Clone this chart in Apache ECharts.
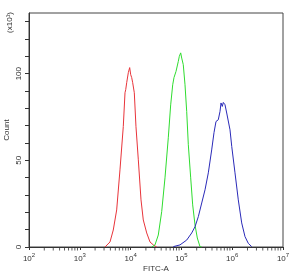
<!DOCTYPE html>
<html><head><meta charset="utf-8">
<script src="https://cdn.jsdelivr.net/npm/echarts@6/dist/echarts.min.js"></script>
<style>html,body{margin:0;padding:0;background:#fff}#c{width:299px;height:275px}</style>
</head><body><div id="c"></div>
<script>
// FITC-A values and counts (counts in units of x10^1)
var redX = [3130,3930,4560,5320,6180,7180,7760,8020,8380,9020,9590,10050,10520,10990,11830,12760,14190,16030,17780,20750,24100,27990,32660];
var redY = [0,2.9,9.8,21.4,44.5,69.5,89,90.8,94.8,100.6,103.5,99.4,97.7,94.8,89,69.4,50.3,27.2,15.6,8.1,2.9,1.2,0];
var greenX = [26000,30200,35080,40930,47530,55210,61520,67450,71450,78340,86900,90990,96830,101400,108900,117800,127100,136800,152400,166700,185400,205600,232300,251200];
var greenY = [0,1.2,6.9,20.4,39.9,63,82,93.6,97.7,101.3,107.1,110,112,109,105.2,93.6,78.2,59,39.9,24.3,12.7,5.2,0.2,0];
var blueX = [69340,93760,127100,159600,185400,215300,251200,291700,338800,394500,438500,479700,532100,575400,602600,638300,668300,721100,779800,905700,979500,1135000,1318000,1538000,1786000,2075000,2421000];
var blueY = [0.2,1.2,4,8.1,11.7,17.5,25.4,33,42.8,56,66,72.4,73.4,78.2,83.1,81.1,83.4,82.1,77.3,67.6,58,42.8,27.2,13.9,6,2.1,0.2];
var xTickExponents = [2,3,4,5,6,7];
var yTickLabels = [0,50,100];
var minorMultipliers = [2,3,4,5,6,7,8,9];

function pairs(xs, ys){ return xs.map(function(x,i){return [x, ys[i]];}); }
var minorTicks = [];
for (var e = 2; e < 7; e++) {
  minorMultipliers.forEach(function(m){ minorTicks.push([m*Math.pow(10,e), 0]); });
}
var axisColor = '#333';
var chart = echarts.init(document.getElementById('c'), null, {renderer:'canvas'});
chart.setOption({
  animation:false,
  backgroundColor:'#fff',
  textStyle:{fontFamily:'Liberation Sans, Arial, sans-serif'},
  grid:{left:29, top:13, right:16, bottom:28, show:true, borderColor:'#444', borderWidth:1, containLabel:false, outerBoundsMode:'none'},
  xAxis:{
    type:'log', logBase:10, min:100, max:1e7,
    name:'FITC-A', nameLocation:'middle', nameGap:18, nameMoveOverlap:false,
    nameTextStyle:{fontSize:8, color:'#333'},
    axisLine:{lineStyle:{color:axisColor, width:1}},
    axisTick:{show:true, inside:false, length:3, lineStyle:{color:axisColor}},
    splitLine:{show:false},
    axisLabel:{
      margin:5, color:'#333', hideOverlap:false,
      formatter:function(v){ var ex = Math.round(Math.log10(v)); return xTickExponents.indexOf(ex)>=0 ? '{b|10}{s|'+ex+'}' : ''; },
      rich:{b:{fontSize:8, lineHeight:11, verticalAlign:'bottom', color:'#333'}, s:{fontSize:6, lineHeight:6, verticalAlign:'top', color:'#333'}}
    }
  },
  yAxis:{
    type:'value', min:0, max:135, interval:10,
    name:'Count', nameLocation:'middle', nameGap:18, nameRotate:90, nameMoveOverlap:false,
    nameTextStyle:{fontSize:8, color:'#333'},
    axisLine:{show:true, lineStyle:{color:axisColor, width:1}},
    axisTick:{show:true, inside:false, length:4, lineStyle:{color:axisColor}},
    splitLine:{show:false},
    axisLabel:{
      rotate:90, margin:6, fontSize:8, color:'#333', showMaxLabel:false,
      formatter:function(v){ return yTickLabels.indexOf(v)>=0 ? String(v) : ''; }
    }
  },
  graphic:[{
    type:'text', left:6, top:12, rotation:Math.PI/2, originX:0, originY:0,
    style:{text:'(x10¹)', fontSize:8, fill:'#333', fontFamily:'Liberation Sans, Arial, sans-serif'}
  }],
  series:[
    {type:'line', data:pairs(redX, redY), showSymbol:false, lineStyle:{color:'#e8343a', width:1}, itemStyle:{color:'#e8343a'}},
    {type:'line', data:pairs(greenX, greenY), showSymbol:false, lineStyle:{color:'#2fdc2f', width:1}, itemStyle:{color:'#2fdc2f'}},
    {type:'line', data:pairs(blueX, blueY), showSymbol:false, lineStyle:{color:'#2a2ab8', width:1}, itemStyle:{color:'#2a2ab8'}},
    {type:'scatter', data:minorTicks, clip:false, silent:true, symbol:'rect', symbolSize:[1,3], symbolOffset:[0,2], itemStyle:{color:axisColor}, z:5}
  ]
});
</script></body></html>
